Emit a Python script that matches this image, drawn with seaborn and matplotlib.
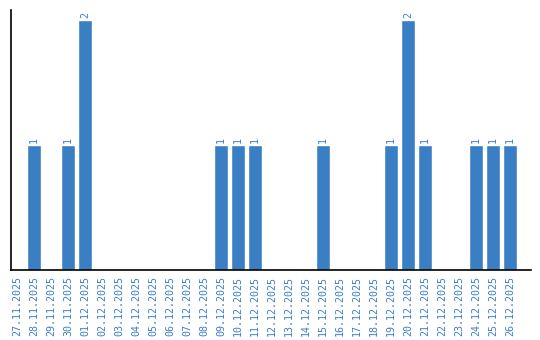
import matplotlib
matplotlib.use("Agg")
import matplotlib.pyplot as plt
import seaborn as sns
import pandas as pd

dates = ["27.11.2025", "28.11.2025", "29.11.2025", "30.11.2025", "01.12.2025",
         "02.12.2025", "03.12.2025", "04.12.2025", "05.12.2025", "06.12.2025",
         "07.12.2025", "08.12.2025", "09.12.2025", "10.12.2025", "11.12.2025",
         "12.12.2025", "13.12.2025", "14.12.2025", "15.12.2025", "16.12.2025",
         "17.12.2025", "18.12.2025", "19.12.2025", "20.12.2025", "21.12.2025",
         "22.12.2025", "23.12.2025", "24.12.2025", "25.12.2025", "26.12.2025"]
counts = [0, 1, 0, 1, 2,
          0, 0, 0, 0, 0,
          0, 0, 1, 1, 1,
          0, 0, 0, 1, 0,
          0, 0, 1, 2, 1,
          0, 0, 1, 1, 1]

color = "#3a7fc4"
df = pd.DataFrame({"date": dates, "count": counts})

sns.set_style("white")
fig = plt.figure(figsize=(5.4, 3.4), dpi=100)
ax = fig.add_axes([11/540, 70/340, 520/540, 260/340])
sns.barplot(data=df, x="date", y="count", color=color, width=0.82,
            saturation=1, ax=ax)

for p, v in zip(ax.patches, counts):
    if v > 0:
        ax.text(p.get_x() + p.get_width()/2, v + 0.02, str(v), rotation=90,
                ha="center", va="bottom", color=color, fontsize=7.2,
                family="DejaVu Sans Mono")

ax.set_ylim(0, 2.08)
ax.set_xlim(-0.353, -0.353 + 520/17)
ax.set_yticks([])
ax.set_xlabel("")
ax.set_ylabel("")
ax.tick_params(axis="x", length=0, pad=4.5, colors=color)
for lbl in ax.get_xticklabels():
    lbl.set_rotation(90)
    lbl.set_fontsize(7.2)
    lbl.set_family("DejaVu Sans Mono")
    lbl.set_color(color)
for s in ["top", "right"]:
    ax.spines[s].set_visible(False)
for s in ["left", "bottom"]:
    ax.spines[s].set_color("black")
    ax.spines[s].set_linewidth(1.2)

fig.savefig("out.png", dpi=100)
